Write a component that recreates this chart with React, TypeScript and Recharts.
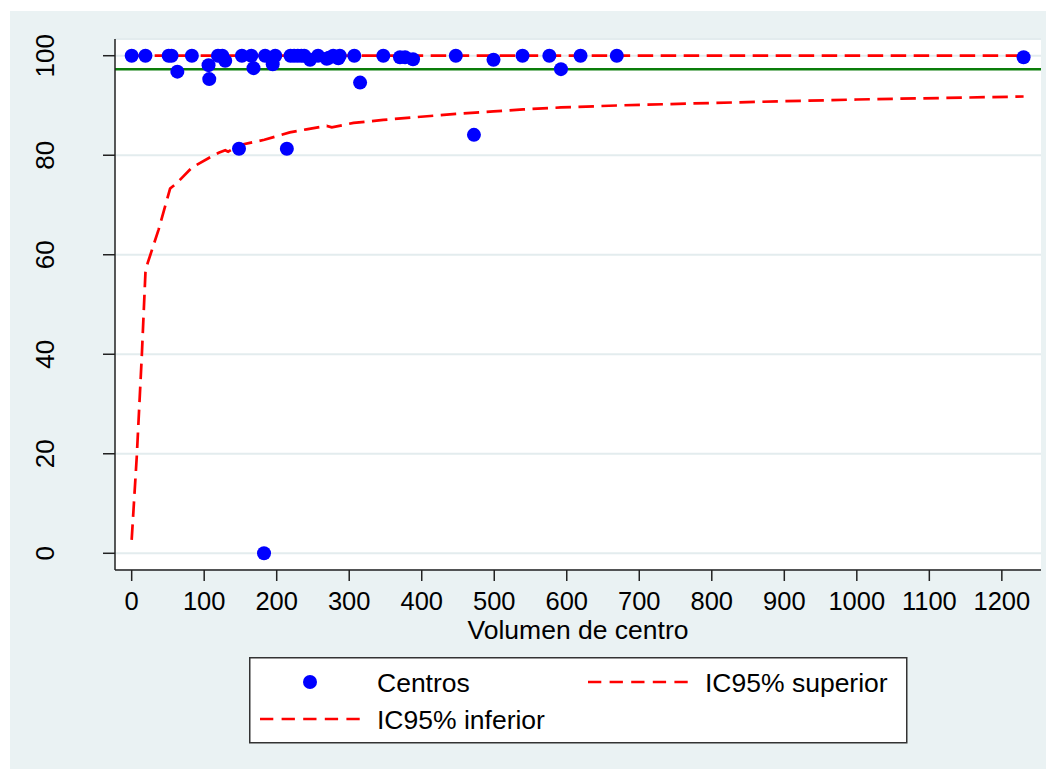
import React from 'react';
import {
  ComposedChart,
  Scatter,
  Line,
  XAxis,
  YAxis,
  CartesianGrid,
  ReferenceLine,
  Label,
} from 'recharts';

// ---- Data ----
const centrosX = [0, 19, 51, 55, 63, 83, 106, 107, 119, 125, 129, 148, 152, 165, 168, 182.5, 184, 194.5, 198, 214, 219, 224, 229, 234, 238, 246, 257, 269, 272, 278, 285, 287, 307, 315, 347, 370, 377, 388, 447, 472, 499, 539, 576, 592, 619, 669, 1230];
const centrosY = [100, 100, 100, 100, 96.8, 100, 98.1, 95.3, 100, 100, 99.0, 81.3, 100, 100, 97.5, 0, 100, 98.3, 100, 81.3, 100, 100, 100, 100, 100, 99.2, 100, 99.4, 99.6, 100, 99.5, 100, 100, 94.6, 100, 99.7, 99.7, 99.3, 100, 84.1, 99.2, 100, 100, 97.3, 100, 100, 99.7];

const upperX = [0, 1230];
const upperY = [100, 100];

const lowerX = [0, 7, 14, 19, 22, 37, 53, 63, 83, 107, 120, 129, 133, 148, 183, 218, 241, 269, 276, 306, 347, 388, 447, 499, 540, 592, 669, 800, 1000, 1230];
const lowerY = [2.7, 19.4, 39.8, 56.5, 58.3, 65, 73.3, 74.5, 77.5, 79.5, 80.5, 81.0, 80.7, 82.0, 83.1, 84.6, 85.2, 85.9, 85.6, 86.5, 87.1, 87.6, 88.3, 88.8, 89.2, 89.6, 90.0, 90.5, 91.2, 91.8];

const referenceY = 97.3;

const xTicks = [0, 100, 200, 300, 400, 500, 600, 700, 800, 900, 1000, 1100, 1200];
const yTicks = [0, 20, 40, 60, 80, 100];

const legendLabels = ['Centros', 'IC95% superior', 'IC95% inferior'];
const xTitle = 'Volumen de centro';

// ---- Built tables ----
const centros = centrosX.map((x, i) => ({ x, y: centrosY[i] }));
const upper = upperX.map((x, i) => ({ x, y: upperY[i] }));
const lower = lowerX.map((x, i) => ({ x, y: lowerY[i] }));

const FONT = '"Liberation Sans", Arial, Helvetica, sans-serif';
const FS = 26;
const BG = '#eaf2f3';
const AXIS = '#222';

const YTick = (props: any) => {
  const { y, payload } = props;
  const cx = 37;
  return (
    <text
      x={cx}
      y={y}
      transform={`rotate(-90 ${cx} ${y})`}
      textAnchor="middle"
      dominantBaseline="central"
      fontFamily={FONT}
      fontSize={FS}
      fill="#000"
    >
      {payload.value}
    </text>
  );
};

const XTick = (props: any) => {
  const { x, payload } = props;
  return (
    <text
      x={x}
      y={602}
      textAnchor="middle"
      fontFamily={FONT}
      fontSize={25.5}
      fill="#000"
    >
      {payload.value}
    </text>
  );
};

const LegendBox = () => (
  <svg width={659} height={88} style={{ display: 'block' }}>
    <rect x={0.75} y={0.75} width={657} height={85} fill="#fff" stroke="#333" strokeWidth={1.5} />
    <circle cx={61} cy={25} r={7} fill="#0000ff" />
    <text x={128} y={35} fontFamily={FONT} fontSize={26.5} fill="#000">{legendLabels[0]}</text>
    <line x1={339} y1={25} x2={439} y2={25} stroke="#ff0000" strokeWidth={2.7} strokeDasharray="13.3 8.3" />
    <text x={456} y={35} fontFamily={FONT} fontSize={26.5} fill="#000">{legendLabels[1]}</text>
    <line x1={11} y1={62} x2={111} y2={62} stroke="#ff0000" strokeWidth={2.7} strokeDasharray="13.3 8.3" />
    <text x={128} y={72} fontFamily={FONT} fontSize={26.5} fill="#000">{legendLabels[2]}</text>
  </svg>
);

export default function App() {
  return (
    <div style={{ position: 'relative', width: 1046, height: 761, background: '#fff' }}>
      <div style={{ position: 'absolute', left: 2, top: 3, right: 0, bottom: 0, background: BG }} />
      <div style={{ position: 'absolute', left: 0, top: 0 }}>
        <ComposedChart
          width={1046}
          height={761}
          margin={{ top: 31, right: 13, left: 0, bottom: 129 }}
        >
          <CartesianGrid
            horizontal={true}
            vertical={false}
            fill="#fff"
            stroke="#e3ecee"
            strokeWidth={2}
          />
          <XAxis
            type="number"
            dataKey="x"
            domain={[-23, 1254]}
            ticks={xTicks}
            allowDataOverflow
            height={70}
            tickSize={11}
            tick={<XTick />}
            axisLine={{ stroke: AXIS, strokeWidth: 1.5 }}
            tickLine={{ stroke: AXIS, strokeWidth: 1.5 }}
            interval={0}
          >
            <Label
              content={(p: any) => {
                const vb = p.viewBox || {};
                return (
                  <text
                    x={vb.x + vb.width / 2}
                    y={631}
                    textAnchor="middle"
                    fontFamily={FONT}
                    fontSize={26.5}
                    fill="#000"
                  >
                    {xTitle}
                  </text>
                );
              }}
            />
          </XAxis>
          <YAxis
            type="number"
            dataKey="y"
            domain={[-3.36, 103.36]}
            ticks={yTicks}
            allowDataOverflow
            width={107}
            tickSize={12}
            tick={<YTick />}
            axisLine={{ stroke: AXIS, strokeWidth: 1.5 }}
            tickLine={{ stroke: AXIS, strokeWidth: 1.5 }}
            interval={0}
          />
          <ReferenceLine y={referenceY} stroke="#0a7d0a" strokeWidth={2.5} ifOverflow="hidden" />
          <Scatter
            name={legendLabels[0]}
            data={centros}
            dataKey="y"
            fill="#0000ff"
            isAnimationActive={false}
            shape={(p: any) => <circle cx={p.cx} cy={p.cy} r={7} fill="#0000ff" />}
          />
          <Line
            name={legendLabels[1]}
            data={upper}
            dataKey="y"
            type="linear"
            stroke="#ff0000"
            strokeWidth={2.7}
            strokeDasharray="15.5 7.5"
            dot={false}
            activeDot={false}
            isAnimationActive={false}
          />
          <Line
            name={legendLabels[2]}
            data={lower}
            dataKey="y"
            type="linear"
            stroke="#ff0000"
            strokeWidth={2.7}
            strokeDasharray="15.5 7.5"
            dot={false}
            activeDot={false}
            isAnimationActive={false}
          />
        </ComposedChart>
      </div>
      <div style={{ position: 'absolute', left: 241, top: 649 }}>
        <LegendBox />
      </div>
    </div>
  );
}
